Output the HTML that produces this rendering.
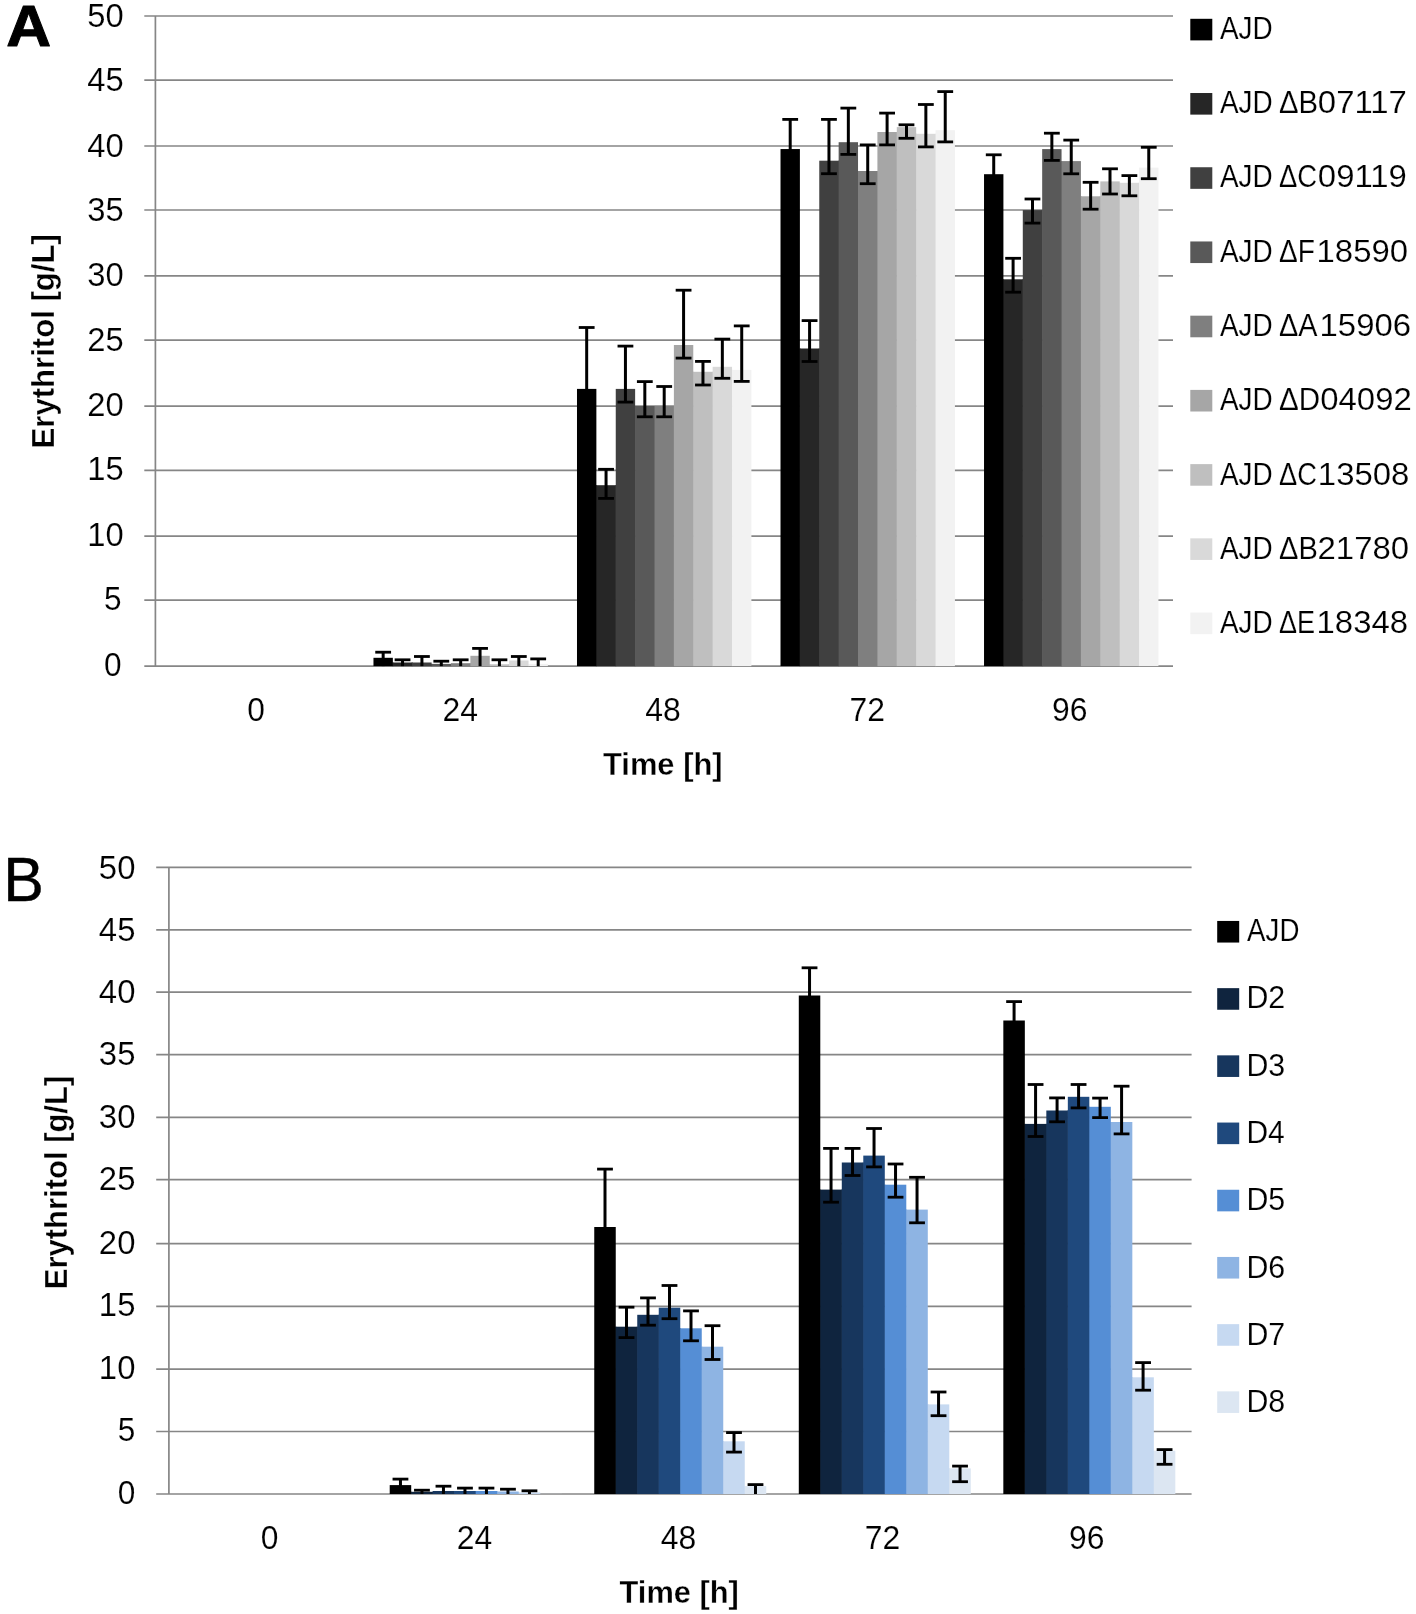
<!DOCTYPE html>
<html><head><meta charset="utf-8"><title>Erythritol charts</title>
<style>
html,body{margin:0;padding:0;background:#fff;}
svg{display:block;filter:blur(0.4px);}
text{font-family:"Liberation Sans", sans-serif;fill:#000;}
text.r{stroke:#fff;stroke-width:0.15px;paint-order:fill stroke;}
text.b{stroke:#fff;stroke-width:0.3px;paint-order:fill stroke;}
text.pa{stroke:#000;stroke-width:1px;stroke-linejoin:round;}
text.pb{stroke:#000;stroke-width:0.4px;stroke-linejoin:round;}
</style></head><body>
<svg width="1416" height="1614" viewBox="0 0 1416 1614">
<rect x="0" y="0" width="1416" height="1614" fill="#fff"/>
<line x1="144.3" y1="666.1" x2="1173" y2="666.1" stroke="#868686" stroke-width="1.7"/>
<line x1="144.3" y1="600.1" x2="1173" y2="600.1" stroke="#868686" stroke-width="1.7"/>
<line x1="144.3" y1="536.1" x2="1173" y2="536.1" stroke="#868686" stroke-width="1.7"/>
<line x1="144.3" y1="470.3" x2="1173" y2="470.3" stroke="#868686" stroke-width="1.7"/>
<line x1="144.3" y1="406.2" x2="1173" y2="406.2" stroke="#868686" stroke-width="1.7"/>
<line x1="144.3" y1="340.2" x2="1173" y2="340.2" stroke="#868686" stroke-width="1.7"/>
<line x1="144.3" y1="275.9" x2="1173" y2="275.9" stroke="#868686" stroke-width="1.7"/>
<line x1="144.3" y1="210" x2="1173" y2="210" stroke="#868686" stroke-width="1.7"/>
<line x1="144.3" y1="146" x2="1173" y2="146" stroke="#868686" stroke-width="1.7"/>
<line x1="144.3" y1="80.1" x2="1173" y2="80.1" stroke="#868686" stroke-width="1.7"/>
<line x1="144.3" y1="16" x2="1173" y2="16" stroke="#868686" stroke-width="1.7"/>
<line x1="155.4" y1="16" x2="155.4" y2="666.1" stroke="#868686" stroke-width="1.7"/>
<rect x="392.25" y="662.5" width="1.2" height="3.6" fill="#000000"/>
<rect x="411.63" y="662.5" width="1.2" height="3.6" fill="#262626"/>
<rect x="431.01" y="663.9" width="1.2" height="2.2" fill="#404040"/>
<rect x="450.39" y="663.9" width="1.2" height="2.2" fill="#595959"/>
<rect x="469.77" y="663.2" width="1.2" height="2.9" fill="#7f7f7f"/>
<rect x="489.15" y="664.3" width="1.2" height="1.8" fill="#a6a6a6"/>
<rect x="508.53" y="664.3" width="1.2" height="1.8" fill="#bfbfbf"/>
<rect x="527.91" y="663.9" width="1.2" height="2.2" fill="#d9d9d9"/>
<rect x="373.47" y="657.8" width="19.38" height="8.3" fill="#000000"/>
<rect x="392.85" y="662.5" width="19.38" height="3.6" fill="#262626"/>
<rect x="412.23" y="662.5" width="19.38" height="3.6" fill="#404040"/>
<rect x="431.61" y="663.9" width="19.38" height="2.2" fill="#595959"/>
<rect x="450.99" y="663.2" width="19.38" height="2.9" fill="#7f7f7f"/>
<rect x="470.37" y="655.8" width="19.38" height="10.3" fill="#a6a6a6"/>
<rect x="489.75" y="664.3" width="19.38" height="1.8" fill="#bfbfbf"/>
<rect x="509.13" y="660.5" width="19.38" height="5.6" fill="#d9d9d9"/>
<rect x="528.51" y="663.9" width="19.38" height="2.2" fill="#f2f2f2"/>
<rect x="595.77" y="485.2" width="1.2" height="180.9" fill="#000000"/>
<rect x="615.15" y="485.2" width="1.2" height="180.9" fill="#262626"/>
<rect x="634.53" y="406" width="1.2" height="260.1" fill="#404040"/>
<rect x="653.91" y="406" width="1.2" height="260.1" fill="#595959"/>
<rect x="673.29" y="406" width="1.2" height="260.1" fill="#7f7f7f"/>
<rect x="692.67" y="371.8" width="1.2" height="294.3" fill="#a6a6a6"/>
<rect x="712.05" y="371.8" width="1.2" height="294.3" fill="#bfbfbf"/>
<rect x="731.43" y="369.9" width="1.2" height="296.2" fill="#d9d9d9"/>
<rect x="576.99" y="388.9" width="19.38" height="277.2" fill="#000000"/>
<rect x="596.37" y="485.2" width="19.38" height="180.9" fill="#262626"/>
<rect x="615.75" y="388.9" width="19.38" height="277.2" fill="#404040"/>
<rect x="635.13" y="406" width="19.38" height="260.1" fill="#595959"/>
<rect x="654.51" y="406" width="19.38" height="260.1" fill="#7f7f7f"/>
<rect x="673.89" y="345" width="19.38" height="321.1" fill="#a6a6a6"/>
<rect x="693.27" y="371.8" width="19.38" height="294.3" fill="#bfbfbf"/>
<rect x="712.65" y="366.8" width="19.38" height="299.3" fill="#d9d9d9"/>
<rect x="732.03" y="369.9" width="19.38" height="296.2" fill="#f2f2f2"/>
<rect x="799.29" y="348.5" width="1.2" height="317.6" fill="#000000"/>
<rect x="818.67" y="348.5" width="1.2" height="317.6" fill="#262626"/>
<rect x="838.05" y="160.7" width="1.2" height="505.4" fill="#404040"/>
<rect x="857.43" y="171" width="1.2" height="495.1" fill="#595959"/>
<rect x="876.81" y="171" width="1.2" height="495.1" fill="#7f7f7f"/>
<rect x="896.19" y="132" width="1.2" height="534.1" fill="#a6a6a6"/>
<rect x="915.57" y="133.8" width="1.2" height="532.3" fill="#bfbfbf"/>
<rect x="934.95" y="133.8" width="1.2" height="532.3" fill="#d9d9d9"/>
<rect x="780.51" y="149.05" width="19.38" height="517.05" fill="#000000"/>
<rect x="799.89" y="348.5" width="19.38" height="317.6" fill="#262626"/>
<rect x="819.27" y="160.7" width="19.38" height="505.4" fill="#404040"/>
<rect x="838.65" y="142.2" width="19.38" height="523.9" fill="#595959"/>
<rect x="858.03" y="171" width="19.38" height="495.1" fill="#7f7f7f"/>
<rect x="877.41" y="132" width="19.38" height="534.1" fill="#a6a6a6"/>
<rect x="896.79" y="127.1" width="19.38" height="539" fill="#bfbfbf"/>
<rect x="916.17" y="133.8" width="19.38" height="532.3" fill="#d9d9d9"/>
<rect x="935.55" y="130.2" width="19.38" height="535.9" fill="#f2f2f2"/>
<rect x="1002.81" y="279.3" width="1.2" height="386.8" fill="#000000"/>
<rect x="1022.19" y="279.3" width="1.2" height="386.8" fill="#262626"/>
<rect x="1041.57" y="210.1" width="1.2" height="456" fill="#404040"/>
<rect x="1060.95" y="161.1" width="1.2" height="505" fill="#595959"/>
<rect x="1080.33" y="196.3" width="1.2" height="469.8" fill="#7f7f7f"/>
<rect x="1099.71" y="196.3" width="1.2" height="469.8" fill="#a6a6a6"/>
<rect x="1119.09" y="182.8" width="1.2" height="483.3" fill="#bfbfbf"/>
<rect x="1138.47" y="182.8" width="1.2" height="483.3" fill="#d9d9d9"/>
<rect x="984.03" y="174.2" width="19.38" height="491.9" fill="#000000"/>
<rect x="1003.41" y="279.3" width="19.38" height="386.8" fill="#262626"/>
<rect x="1022.79" y="210.1" width="19.38" height="456" fill="#404040"/>
<rect x="1042.17" y="149.1" width="19.38" height="517" fill="#595959"/>
<rect x="1061.55" y="161.1" width="19.38" height="505" fill="#7f7f7f"/>
<rect x="1080.93" y="196.3" width="19.38" height="469.8" fill="#a6a6a6"/>
<rect x="1100.31" y="181.4" width="19.38" height="484.7" fill="#bfbfbf"/>
<rect x="1119.69" y="182.8" width="19.38" height="483.3" fill="#d9d9d9"/>
<rect x="1139.07" y="167.6" width="19.38" height="498.5" fill="#f2f2f2"/>
<line x1="383.16" y1="652.2" x2="383.16" y2="666.1" stroke="#000" stroke-width="3.0"/>
<line x1="375.26" y1="652.2" x2="391.06" y2="652.2" stroke="#000" stroke-width="2.8"/>
<line x1="402.54" y1="659.8" x2="402.54" y2="666.1" stroke="#000" stroke-width="3.0"/>
<line x1="394.64" y1="659.8" x2="410.44" y2="659.8" stroke="#000" stroke-width="2.8"/>
<line x1="421.92" y1="656.5" x2="421.92" y2="666.1" stroke="#000" stroke-width="3.0"/>
<line x1="414.02" y1="656.5" x2="429.82" y2="656.5" stroke="#000" stroke-width="2.8"/>
<line x1="441.3" y1="661.2" x2="441.3" y2="666.1" stroke="#000" stroke-width="3.0"/>
<line x1="433.4" y1="661.2" x2="449.2" y2="661.2" stroke="#000" stroke-width="2.8"/>
<line x1="460.68" y1="659.8" x2="460.68" y2="666.1" stroke="#000" stroke-width="3.0"/>
<line x1="452.78" y1="659.8" x2="468.58" y2="659.8" stroke="#000" stroke-width="2.8"/>
<line x1="480.06" y1="648.4" x2="480.06" y2="666.1" stroke="#000" stroke-width="3.0"/>
<line x1="472.16" y1="648.4" x2="487.96" y2="648.4" stroke="#000" stroke-width="2.8"/>
<line x1="499.44" y1="659.8" x2="499.44" y2="666.1" stroke="#000" stroke-width="3.0"/>
<line x1="491.54" y1="659.8" x2="507.34" y2="659.8" stroke="#000" stroke-width="2.8"/>
<line x1="518.82" y1="656.5" x2="518.82" y2="666.1" stroke="#000" stroke-width="3.0"/>
<line x1="510.92" y1="656.5" x2="526.72" y2="656.5" stroke="#000" stroke-width="2.8"/>
<line x1="538.2" y1="658.9" x2="538.2" y2="666.1" stroke="#000" stroke-width="3.0"/>
<line x1="530.3" y1="658.9" x2="546.1" y2="658.9" stroke="#000" stroke-width="2.8"/>
<line x1="586.68" y1="327.5" x2="586.68" y2="401.9" stroke="#000" stroke-width="3.0"/>
<line x1="578.78" y1="327.5" x2="594.58" y2="327.5" stroke="#000" stroke-width="2.8"/>
<line x1="578.78" y1="401.9" x2="594.58" y2="401.9" stroke="#000" stroke-width="2.8"/>
<line x1="606.06" y1="469.3" x2="606.06" y2="498.4" stroke="#000" stroke-width="3.0"/>
<line x1="598.16" y1="469.3" x2="613.96" y2="469.3" stroke="#000" stroke-width="2.8"/>
<line x1="598.16" y1="498.4" x2="613.96" y2="498.4" stroke="#000" stroke-width="2.8"/>
<line x1="625.44" y1="346.1" x2="625.44" y2="402.1" stroke="#000" stroke-width="3.0"/>
<line x1="617.54" y1="346.1" x2="633.34" y2="346.1" stroke="#000" stroke-width="2.8"/>
<line x1="617.54" y1="402.1" x2="633.34" y2="402.1" stroke="#000" stroke-width="2.8"/>
<line x1="644.82" y1="381.6" x2="644.82" y2="416.8" stroke="#000" stroke-width="3.0"/>
<line x1="636.92" y1="381.6" x2="652.72" y2="381.6" stroke="#000" stroke-width="2.8"/>
<line x1="636.92" y1="416.8" x2="652.72" y2="416.8" stroke="#000" stroke-width="2.8"/>
<line x1="664.2" y1="386.5" x2="664.2" y2="416.8" stroke="#000" stroke-width="3.0"/>
<line x1="656.3" y1="386.5" x2="672.1" y2="386.5" stroke="#000" stroke-width="2.8"/>
<line x1="656.3" y1="416.8" x2="672.1" y2="416.8" stroke="#000" stroke-width="2.8"/>
<line x1="683.58" y1="290.2" x2="683.58" y2="358.1" stroke="#000" stroke-width="3.0"/>
<line x1="675.68" y1="290.2" x2="691.48" y2="290.2" stroke="#000" stroke-width="2.8"/>
<line x1="675.68" y1="358.1" x2="691.48" y2="358.1" stroke="#000" stroke-width="2.8"/>
<line x1="702.96" y1="361.4" x2="702.96" y2="385" stroke="#000" stroke-width="3.0"/>
<line x1="695.06" y1="361.4" x2="710.86" y2="361.4" stroke="#000" stroke-width="2.8"/>
<line x1="695.06" y1="385" x2="710.86" y2="385" stroke="#000" stroke-width="2.8"/>
<line x1="722.34" y1="339.1" x2="722.34" y2="378.3" stroke="#000" stroke-width="3.0"/>
<line x1="714.44" y1="339.1" x2="730.24" y2="339.1" stroke="#000" stroke-width="2.8"/>
<line x1="714.44" y1="378.3" x2="730.24" y2="378.3" stroke="#000" stroke-width="2.8"/>
<line x1="741.72" y1="325.9" x2="741.72" y2="381.4" stroke="#000" stroke-width="3.0"/>
<line x1="733.82" y1="325.9" x2="749.62" y2="325.9" stroke="#000" stroke-width="2.8"/>
<line x1="733.82" y1="381.4" x2="749.62" y2="381.4" stroke="#000" stroke-width="2.8"/>
<line x1="790.2" y1="119.4" x2="790.2" y2="162.05" stroke="#000" stroke-width="3.0"/>
<line x1="782.3" y1="119.4" x2="798.1" y2="119.4" stroke="#000" stroke-width="2.8"/>
<line x1="782.3" y1="162.05" x2="798.1" y2="162.05" stroke="#000" stroke-width="2.8"/>
<line x1="809.58" y1="320.6" x2="809.58" y2="361.5" stroke="#000" stroke-width="3.0"/>
<line x1="801.68" y1="320.6" x2="817.48" y2="320.6" stroke="#000" stroke-width="2.8"/>
<line x1="801.68" y1="361.5" x2="817.48" y2="361.5" stroke="#000" stroke-width="2.8"/>
<line x1="828.96" y1="119.4" x2="828.96" y2="173.7" stroke="#000" stroke-width="3.0"/>
<line x1="821.06" y1="119.4" x2="836.86" y2="119.4" stroke="#000" stroke-width="2.8"/>
<line x1="821.06" y1="173.7" x2="836.86" y2="173.7" stroke="#000" stroke-width="2.8"/>
<line x1="848.34" y1="108.1" x2="848.34" y2="154.4" stroke="#000" stroke-width="3.0"/>
<line x1="840.44" y1="108.1" x2="856.24" y2="108.1" stroke="#000" stroke-width="2.8"/>
<line x1="840.44" y1="154.4" x2="856.24" y2="154.4" stroke="#000" stroke-width="2.8"/>
<line x1="867.72" y1="144.9" x2="867.72" y2="183.7" stroke="#000" stroke-width="3.0"/>
<line x1="859.82" y1="144.9" x2="875.62" y2="144.9" stroke="#000" stroke-width="2.8"/>
<line x1="859.82" y1="183.7" x2="875.62" y2="183.7" stroke="#000" stroke-width="2.8"/>
<line x1="887.1" y1="113.1" x2="887.1" y2="144.9" stroke="#000" stroke-width="3.0"/>
<line x1="879.2" y1="113.1" x2="895" y2="113.1" stroke="#000" stroke-width="2.8"/>
<line x1="879.2" y1="144.9" x2="895" y2="144.9" stroke="#000" stroke-width="2.8"/>
<line x1="906.48" y1="124.8" x2="906.48" y2="138.3" stroke="#000" stroke-width="3.0"/>
<line x1="898.58" y1="124.8" x2="914.38" y2="124.8" stroke="#000" stroke-width="2.8"/>
<line x1="898.58" y1="138.3" x2="914.38" y2="138.3" stroke="#000" stroke-width="2.8"/>
<line x1="925.86" y1="104.5" x2="925.86" y2="146.9" stroke="#000" stroke-width="3.0"/>
<line x1="917.96" y1="104.5" x2="933.76" y2="104.5" stroke="#000" stroke-width="2.8"/>
<line x1="917.96" y1="146.9" x2="933.76" y2="146.9" stroke="#000" stroke-width="2.8"/>
<line x1="945.24" y1="91.6" x2="945.24" y2="141.9" stroke="#000" stroke-width="3.0"/>
<line x1="937.34" y1="91.6" x2="953.14" y2="91.6" stroke="#000" stroke-width="2.8"/>
<line x1="937.34" y1="141.9" x2="953.14" y2="141.9" stroke="#000" stroke-width="2.8"/>
<line x1="993.72" y1="154.8" x2="993.72" y2="187.2" stroke="#000" stroke-width="3.0"/>
<line x1="985.82" y1="154.8" x2="1001.62" y2="154.8" stroke="#000" stroke-width="2.8"/>
<line x1="985.82" y1="187.2" x2="1001.62" y2="187.2" stroke="#000" stroke-width="2.8"/>
<line x1="1013.1" y1="258.3" x2="1013.1" y2="292.2" stroke="#000" stroke-width="3.0"/>
<line x1="1005.2" y1="258.3" x2="1021" y2="258.3" stroke="#000" stroke-width="2.8"/>
<line x1="1005.2" y1="292.2" x2="1021" y2="292.2" stroke="#000" stroke-width="2.8"/>
<line x1="1032.48" y1="199" x2="1032.48" y2="223.1" stroke="#000" stroke-width="3.0"/>
<line x1="1024.58" y1="199" x2="1040.38" y2="199" stroke="#000" stroke-width="2.8"/>
<line x1="1024.58" y1="223.1" x2="1040.38" y2="223.1" stroke="#000" stroke-width="2.8"/>
<line x1="1051.86" y1="133.2" x2="1051.86" y2="160.4" stroke="#000" stroke-width="3.0"/>
<line x1="1043.96" y1="133.2" x2="1059.76" y2="133.2" stroke="#000" stroke-width="2.8"/>
<line x1="1043.96" y1="160.4" x2="1059.76" y2="160.4" stroke="#000" stroke-width="2.8"/>
<line x1="1071.24" y1="140.1" x2="1071.24" y2="173.8" stroke="#000" stroke-width="3.0"/>
<line x1="1063.34" y1="140.1" x2="1079.14" y2="140.1" stroke="#000" stroke-width="2.8"/>
<line x1="1063.34" y1="173.8" x2="1079.14" y2="173.8" stroke="#000" stroke-width="2.8"/>
<line x1="1090.62" y1="182.3" x2="1090.62" y2="209.2" stroke="#000" stroke-width="3.0"/>
<line x1="1082.72" y1="182.3" x2="1098.52" y2="182.3" stroke="#000" stroke-width="2.8"/>
<line x1="1082.72" y1="209.2" x2="1098.52" y2="209.2" stroke="#000" stroke-width="2.8"/>
<line x1="1110" y1="168.8" x2="1110" y2="194" stroke="#000" stroke-width="3.0"/>
<line x1="1102.1" y1="168.8" x2="1117.9" y2="168.8" stroke="#000" stroke-width="2.8"/>
<line x1="1102.1" y1="194" x2="1117.9" y2="194" stroke="#000" stroke-width="2.8"/>
<line x1="1129.38" y1="175.6" x2="1129.38" y2="195.8" stroke="#000" stroke-width="3.0"/>
<line x1="1121.48" y1="175.6" x2="1137.28" y2="175.6" stroke="#000" stroke-width="2.8"/>
<line x1="1121.48" y1="195.8" x2="1137.28" y2="195.8" stroke="#000" stroke-width="2.8"/>
<line x1="1148.76" y1="147.3" x2="1148.76" y2="178.7" stroke="#000" stroke-width="3.0"/>
<line x1="1140.86" y1="147.3" x2="1156.66" y2="147.3" stroke="#000" stroke-width="2.8"/>
<line x1="1140.86" y1="178.7" x2="1156.66" y2="178.7" stroke="#000" stroke-width="2.8"/>
<rect x="1190.3" y="18.8" width="22" height="21.6" fill="#000000"/>
<rect x="1190.3" y="93.02" width="22" height="21.6" fill="#262626"/>
<rect x="1190.3" y="167.24" width="22" height="21.6" fill="#404040"/>
<rect x="1190.3" y="241.46" width="22" height="21.6" fill="#595959"/>
<rect x="1190.3" y="315.68" width="22" height="21.6" fill="#7f7f7f"/>
<rect x="1190.3" y="389.9" width="22" height="21.6" fill="#a6a6a6"/>
<rect x="1190.3" y="464.12" width="22" height="21.6" fill="#bfbfbf"/>
<rect x="1190.3" y="538.34" width="22" height="21.6" fill="#d9d9d9"/>
<rect x="1190.3" y="612.56" width="22" height="21.6" fill="#f2f2f2"/>
<line x1="156.2" y1="1494" x2="1191.6" y2="1494" stroke="#868686" stroke-width="1.7"/>
<line x1="156.2" y1="1431.5" x2="1191.6" y2="1431.5" stroke="#868686" stroke-width="1.7"/>
<line x1="156.2" y1="1369.1" x2="1191.6" y2="1369.1" stroke="#868686" stroke-width="1.7"/>
<line x1="156.2" y1="1306.3" x2="1191.6" y2="1306.3" stroke="#868686" stroke-width="1.7"/>
<line x1="156.2" y1="1243.6" x2="1191.6" y2="1243.6" stroke="#868686" stroke-width="1.7"/>
<line x1="156.2" y1="1179.7" x2="1191.6" y2="1179.7" stroke="#868686" stroke-width="1.7"/>
<line x1="156.2" y1="1117.4" x2="1191.6" y2="1117.4" stroke="#868686" stroke-width="1.7"/>
<line x1="156.2" y1="1054.7" x2="1191.6" y2="1054.7" stroke="#868686" stroke-width="1.7"/>
<line x1="156.2" y1="992.2" x2="1191.6" y2="992.2" stroke="#868686" stroke-width="1.7"/>
<line x1="156.2" y1="929.8" x2="1191.6" y2="929.8" stroke="#868686" stroke-width="1.7"/>
<line x1="156.2" y1="867.4" x2="1191.6" y2="867.4" stroke="#868686" stroke-width="1.7"/>
<line x1="168.9" y1="867.4" x2="168.9" y2="1494" stroke="#868686" stroke-width="1.7"/>
<rect x="410.61" y="1491.8" width="1.2" height="2.2" fill="#000000"/>
<rect x="432.11" y="1491.8" width="1.2" height="2.2" fill="#0f243e"/>
<rect x="453.61" y="1491" width="1.2" height="3" fill="#17365d"/>
<rect x="475.11" y="1491" width="1.2" height="3" fill="#1f497d"/>
<rect x="496.61" y="1491.5" width="1.2" height="2.5" fill="#558ed5"/>
<rect x="518.11" y="1492.5" width="1.2" height="1.5" fill="#8eb4e3"/>
<rect x="539.61" y="1493.9" width="1.2" height="0.1" fill="#c6d9f1"/>
<rect x="389.71" y="1485.1" width="21.5" height="8.9" fill="#000000"/>
<rect x="411.21" y="1491.8" width="21.5" height="2.2" fill="#0f243e"/>
<rect x="432.71" y="1491" width="21.5" height="3" fill="#17365d"/>
<rect x="454.21" y="1491" width="21.5" height="3" fill="#1f497d"/>
<rect x="475.71" y="1491" width="21.5" height="3" fill="#558ed5"/>
<rect x="497.21" y="1491.5" width="21.5" height="2.5" fill="#8eb4e3"/>
<rect x="518.71" y="1492.5" width="21.5" height="1.5" fill="#c6d9f1"/>
<rect x="540.21" y="1493.9" width="21.5" height="0.1" fill="#dce6f2"/>
<rect x="615.15" y="1326.7" width="1.2" height="167.3" fill="#000000"/>
<rect x="636.65" y="1326.7" width="1.2" height="167.3" fill="#0f243e"/>
<rect x="658.15" y="1314.8" width="1.2" height="179.2" fill="#17365d"/>
<rect x="679.65" y="1328.3" width="1.2" height="165.7" fill="#1f497d"/>
<rect x="701.15" y="1346.7" width="1.2" height="147.3" fill="#558ed5"/>
<rect x="722.65" y="1441.3" width="1.2" height="52.7" fill="#8eb4e3"/>
<rect x="744.15" y="1486.1" width="1.2" height="7.9" fill="#c6d9f1"/>
<rect x="594.25" y="1227" width="21.5" height="267" fill="#000000"/>
<rect x="615.75" y="1326.7" width="21.5" height="167.3" fill="#0f243e"/>
<rect x="637.25" y="1314.8" width="21.5" height="179.2" fill="#17365d"/>
<rect x="658.75" y="1307.7" width="21.5" height="186.3" fill="#1f497d"/>
<rect x="680.25" y="1328.3" width="21.5" height="165.7" fill="#558ed5"/>
<rect x="701.75" y="1346.7" width="21.5" height="147.3" fill="#8eb4e3"/>
<rect x="723.25" y="1441.3" width="21.5" height="52.7" fill="#c6d9f1"/>
<rect x="744.75" y="1486.1" width="21.5" height="7.9" fill="#dce6f2"/>
<rect x="819.69" y="1189.6" width="1.2" height="304.4" fill="#000000"/>
<rect x="841.19" y="1189.6" width="1.2" height="304.4" fill="#0f243e"/>
<rect x="862.69" y="1162.5" width="1.2" height="331.5" fill="#17365d"/>
<rect x="884.19" y="1184.7" width="1.2" height="309.3" fill="#1f497d"/>
<rect x="905.69" y="1209.6" width="1.2" height="284.4" fill="#558ed5"/>
<rect x="927.19" y="1404.4" width="1.2" height="89.6" fill="#8eb4e3"/>
<rect x="948.69" y="1468.4" width="1.2" height="25.6" fill="#c6d9f1"/>
<rect x="798.79" y="995.5" width="21.5" height="498.5" fill="#000000"/>
<rect x="820.29" y="1189.6" width="21.5" height="304.4" fill="#0f243e"/>
<rect x="841.79" y="1162.5" width="21.5" height="331.5" fill="#17365d"/>
<rect x="863.29" y="1155.6" width="21.5" height="338.4" fill="#1f497d"/>
<rect x="884.79" y="1184.7" width="21.5" height="309.3" fill="#558ed5"/>
<rect x="906.29" y="1209.6" width="21.5" height="284.4" fill="#8eb4e3"/>
<rect x="927.79" y="1404.4" width="21.5" height="89.6" fill="#c6d9f1"/>
<rect x="949.29" y="1468.4" width="21.5" height="25.6" fill="#dce6f2"/>
<rect x="1024.23" y="1123.9" width="1.2" height="370.1" fill="#000000"/>
<rect x="1045.73" y="1123.9" width="1.2" height="370.1" fill="#0f243e"/>
<rect x="1067.23" y="1110.5" width="1.2" height="383.5" fill="#17365d"/>
<rect x="1088.73" y="1106.8" width="1.2" height="387.2" fill="#1f497d"/>
<rect x="1110.23" y="1122" width="1.2" height="372" fill="#558ed5"/>
<rect x="1131.73" y="1377.3" width="1.2" height="116.7" fill="#8eb4e3"/>
<rect x="1153.23" y="1450.7" width="1.2" height="43.3" fill="#c6d9f1"/>
<rect x="1003.33" y="1020.5" width="21.5" height="473.5" fill="#000000"/>
<rect x="1024.83" y="1123.9" width="21.5" height="370.1" fill="#0f243e"/>
<rect x="1046.33" y="1110.5" width="21.5" height="383.5" fill="#17365d"/>
<rect x="1067.83" y="1096.8" width="21.5" height="397.2" fill="#1f497d"/>
<rect x="1089.33" y="1106.8" width="21.5" height="387.2" fill="#558ed5"/>
<rect x="1110.83" y="1122" width="21.5" height="372" fill="#8eb4e3"/>
<rect x="1132.33" y="1377.3" width="21.5" height="116.7" fill="#c6d9f1"/>
<rect x="1153.83" y="1450.7" width="21.5" height="43.3" fill="#dce6f2"/>
<line x1="400.46" y1="1479.1" x2="400.46" y2="1494" stroke="#000" stroke-width="3.0"/>
<line x1="392.56" y1="1479.1" x2="408.36" y2="1479.1" stroke="#000" stroke-width="2.8"/>
<line x1="421.96" y1="1490.2" x2="421.96" y2="1494" stroke="#000" stroke-width="3.0"/>
<line x1="414.06" y1="1490.2" x2="429.86" y2="1490.2" stroke="#000" stroke-width="2.8"/>
<line x1="443.46" y1="1486.2" x2="443.46" y2="1494" stroke="#000" stroke-width="3.0"/>
<line x1="435.56" y1="1486.2" x2="451.36" y2="1486.2" stroke="#000" stroke-width="2.8"/>
<line x1="464.96" y1="1488.1" x2="464.96" y2="1494" stroke="#000" stroke-width="3.0"/>
<line x1="457.06" y1="1488.1" x2="472.86" y2="1488.1" stroke="#000" stroke-width="2.8"/>
<line x1="486.46" y1="1488.1" x2="486.46" y2="1494" stroke="#000" stroke-width="3.0"/>
<line x1="478.56" y1="1488.1" x2="494.36" y2="1488.1" stroke="#000" stroke-width="2.8"/>
<line x1="507.96" y1="1489.2" x2="507.96" y2="1494" stroke="#000" stroke-width="3.0"/>
<line x1="500.06" y1="1489.2" x2="515.86" y2="1489.2" stroke="#000" stroke-width="2.8"/>
<line x1="529.46" y1="1490.8" x2="529.46" y2="1494" stroke="#000" stroke-width="3.0"/>
<line x1="521.56" y1="1490.8" x2="537.36" y2="1490.8" stroke="#000" stroke-width="2.8"/>
<line x1="605" y1="1169.1" x2="605" y2="1239.53" stroke="#000" stroke-width="3.0"/>
<line x1="597.1" y1="1169.1" x2="612.9" y2="1169.1" stroke="#000" stroke-width="2.8"/>
<line x1="597.1" y1="1239.53" x2="612.9" y2="1239.53" stroke="#000" stroke-width="2.8"/>
<line x1="626.5" y1="1307.2" x2="626.5" y2="1337.6" stroke="#000" stroke-width="3.0"/>
<line x1="618.6" y1="1307.2" x2="634.4" y2="1307.2" stroke="#000" stroke-width="2.8"/>
<line x1="618.6" y1="1337.6" x2="634.4" y2="1337.6" stroke="#000" stroke-width="2.8"/>
<line x1="648" y1="1297.9" x2="648" y2="1325.2" stroke="#000" stroke-width="3.0"/>
<line x1="640.1" y1="1297.9" x2="655.9" y2="1297.9" stroke="#000" stroke-width="2.8"/>
<line x1="640.1" y1="1325.2" x2="655.9" y2="1325.2" stroke="#000" stroke-width="2.8"/>
<line x1="669.5" y1="1285.5" x2="669.5" y2="1318.7" stroke="#000" stroke-width="3.0"/>
<line x1="661.6" y1="1285.5" x2="677.4" y2="1285.5" stroke="#000" stroke-width="2.8"/>
<line x1="661.6" y1="1318.7" x2="677.4" y2="1318.7" stroke="#000" stroke-width="2.8"/>
<line x1="691" y1="1310.9" x2="691" y2="1340.8" stroke="#000" stroke-width="3.0"/>
<line x1="683.1" y1="1310.9" x2="698.9" y2="1310.9" stroke="#000" stroke-width="2.8"/>
<line x1="683.1" y1="1340.8" x2="698.9" y2="1340.8" stroke="#000" stroke-width="2.8"/>
<line x1="712.5" y1="1325.7" x2="712.5" y2="1359.5" stroke="#000" stroke-width="3.0"/>
<line x1="704.6" y1="1325.7" x2="720.4" y2="1325.7" stroke="#000" stroke-width="2.8"/>
<line x1="704.6" y1="1359.5" x2="720.4" y2="1359.5" stroke="#000" stroke-width="2.8"/>
<line x1="734" y1="1432.6" x2="734" y2="1452.1" stroke="#000" stroke-width="3.0"/>
<line x1="726.1" y1="1432.6" x2="741.9" y2="1432.6" stroke="#000" stroke-width="2.8"/>
<line x1="726.1" y1="1452.1" x2="741.9" y2="1452.1" stroke="#000" stroke-width="2.8"/>
<line x1="755.5" y1="1484.6" x2="755.5" y2="1494" stroke="#000" stroke-width="3.0"/>
<line x1="747.6" y1="1484.6" x2="763.4" y2="1484.6" stroke="#000" stroke-width="2.8"/>
<line x1="809.54" y1="967.8" x2="809.54" y2="1008.03" stroke="#000" stroke-width="3.0"/>
<line x1="801.64" y1="967.8" x2="817.44" y2="967.8" stroke="#000" stroke-width="2.8"/>
<line x1="801.64" y1="1008.03" x2="817.44" y2="1008.03" stroke="#000" stroke-width="2.8"/>
<line x1="831.04" y1="1148.4" x2="831.04" y2="1202.2" stroke="#000" stroke-width="3.0"/>
<line x1="823.14" y1="1148.4" x2="838.94" y2="1148.4" stroke="#000" stroke-width="2.8"/>
<line x1="823.14" y1="1202.2" x2="838.94" y2="1202.2" stroke="#000" stroke-width="2.8"/>
<line x1="852.54" y1="1148.4" x2="852.54" y2="1175.5" stroke="#000" stroke-width="3.0"/>
<line x1="844.64" y1="1148.4" x2="860.44" y2="1148.4" stroke="#000" stroke-width="2.8"/>
<line x1="844.64" y1="1175.5" x2="860.44" y2="1175.5" stroke="#000" stroke-width="2.8"/>
<line x1="874.04" y1="1128.5" x2="874.04" y2="1166.9" stroke="#000" stroke-width="3.0"/>
<line x1="866.14" y1="1128.5" x2="881.94" y2="1128.5" stroke="#000" stroke-width="2.8"/>
<line x1="866.14" y1="1166.9" x2="881.94" y2="1166.9" stroke="#000" stroke-width="2.8"/>
<line x1="895.54" y1="1164" x2="895.54" y2="1197.2" stroke="#000" stroke-width="3.0"/>
<line x1="887.64" y1="1164" x2="903.44" y2="1164" stroke="#000" stroke-width="2.8"/>
<line x1="887.64" y1="1197.2" x2="903.44" y2="1197.2" stroke="#000" stroke-width="2.8"/>
<line x1="917.04" y1="1177.3" x2="917.04" y2="1222.8" stroke="#000" stroke-width="3.0"/>
<line x1="909.14" y1="1177.3" x2="924.94" y2="1177.3" stroke="#000" stroke-width="2.8"/>
<line x1="909.14" y1="1222.8" x2="924.94" y2="1222.8" stroke="#000" stroke-width="2.8"/>
<line x1="938.54" y1="1392" x2="938.54" y2="1415.7" stroke="#000" stroke-width="3.0"/>
<line x1="930.64" y1="1392" x2="946.44" y2="1392" stroke="#000" stroke-width="2.8"/>
<line x1="930.64" y1="1415.7" x2="946.44" y2="1415.7" stroke="#000" stroke-width="2.8"/>
<line x1="960.04" y1="1466.1" x2="960.04" y2="1481.7" stroke="#000" stroke-width="3.0"/>
<line x1="952.14" y1="1466.1" x2="967.94" y2="1466.1" stroke="#000" stroke-width="2.8"/>
<line x1="952.14" y1="1481.7" x2="967.94" y2="1481.7" stroke="#000" stroke-width="2.8"/>
<line x1="1014.08" y1="1001.6" x2="1014.08" y2="1033.03" stroke="#000" stroke-width="3.0"/>
<line x1="1006.18" y1="1001.6" x2="1021.98" y2="1001.6" stroke="#000" stroke-width="2.8"/>
<line x1="1006.18" y1="1033.03" x2="1021.98" y2="1033.03" stroke="#000" stroke-width="2.8"/>
<line x1="1035.58" y1="1084.5" x2="1035.58" y2="1136.5" stroke="#000" stroke-width="3.0"/>
<line x1="1027.68" y1="1084.5" x2="1043.48" y2="1084.5" stroke="#000" stroke-width="2.8"/>
<line x1="1027.68" y1="1136.5" x2="1043.48" y2="1136.5" stroke="#000" stroke-width="2.8"/>
<line x1="1057.08" y1="1097.9" x2="1057.08" y2="1121.8" stroke="#000" stroke-width="3.0"/>
<line x1="1049.18" y1="1097.9" x2="1064.98" y2="1097.9" stroke="#000" stroke-width="2.8"/>
<line x1="1049.18" y1="1121.8" x2="1064.98" y2="1121.8" stroke="#000" stroke-width="2.8"/>
<line x1="1078.58" y1="1084.5" x2="1078.58" y2="1107.9" stroke="#000" stroke-width="3.0"/>
<line x1="1070.68" y1="1084.5" x2="1086.48" y2="1084.5" stroke="#000" stroke-width="2.8"/>
<line x1="1070.68" y1="1107.9" x2="1086.48" y2="1107.9" stroke="#000" stroke-width="2.8"/>
<line x1="1100.08" y1="1098.1" x2="1100.08" y2="1117.6" stroke="#000" stroke-width="3.0"/>
<line x1="1092.18" y1="1098.1" x2="1107.98" y2="1098.1" stroke="#000" stroke-width="2.8"/>
<line x1="1092.18" y1="1117.6" x2="1107.98" y2="1117.6" stroke="#000" stroke-width="2.8"/>
<line x1="1121.58" y1="1086.2" x2="1121.58" y2="1133.9" stroke="#000" stroke-width="3.0"/>
<line x1="1113.68" y1="1086.2" x2="1129.48" y2="1086.2" stroke="#000" stroke-width="2.8"/>
<line x1="1113.68" y1="1133.9" x2="1129.48" y2="1133.9" stroke="#000" stroke-width="2.8"/>
<line x1="1143.08" y1="1362.6" x2="1143.08" y2="1390.2" stroke="#000" stroke-width="3.0"/>
<line x1="1135.18" y1="1362.6" x2="1150.98" y2="1362.6" stroke="#000" stroke-width="2.8"/>
<line x1="1135.18" y1="1390.2" x2="1150.98" y2="1390.2" stroke="#000" stroke-width="2.8"/>
<line x1="1164.58" y1="1449.6" x2="1164.58" y2="1464.3" stroke="#000" stroke-width="3.0"/>
<line x1="1156.68" y1="1449.6" x2="1172.48" y2="1449.6" stroke="#000" stroke-width="2.8"/>
<line x1="1156.68" y1="1464.3" x2="1172.48" y2="1464.3" stroke="#000" stroke-width="2.8"/>
<rect x="1217.2" y="920.95" width="22" height="21.6" fill="#000000"/>
<rect x="1217.2" y="988.15" width="22" height="21.6" fill="#0f243e"/>
<rect x="1217.2" y="1055.35" width="22" height="21.6" fill="#17365d"/>
<rect x="1217.2" y="1122.55" width="22" height="21.6" fill="#1f497d"/>
<rect x="1217.2" y="1189.75" width="22" height="21.6" fill="#558ed5"/>
<rect x="1217.2" y="1256.95" width="22" height="21.6" fill="#8eb4e3"/>
<rect x="1217.2" y="1324.15" width="22" height="21.6" fill="#c6d9f1"/>
<rect x="1217.2" y="1391.35" width="22" height="21.6" fill="#dce6f2"/>
<text transform="translate(104.11,675.63) scale(0.9426,1)" font-size="33.53" class="r">0</text>
<text transform="translate(104.11,609.8) scale(0.9426,1)" font-size="33.53" class="r">5</text>
<text transform="translate(87.18,545.96) scale(0.9772,1)" font-size="33.53" class="r">10</text>
<text transform="translate(87.18,480.33) scale(0.9772,1)" font-size="33.53" class="r">15</text>
<text transform="translate(87.18,416.39) scale(0.9772,1)" font-size="33.53" class="r">20</text>
<text transform="translate(87.18,350.56) scale(0.9772,1)" font-size="33.53" class="r">25</text>
<text transform="translate(87.18,286.42) scale(0.9772,1)" font-size="33.53" class="r">30</text>
<text transform="translate(87.18,220.68) scale(0.9772,1)" font-size="33.53" class="r">35</text>
<text transform="translate(87.18,156.85) scale(0.9772,1)" font-size="33.53" class="r">40</text>
<text transform="translate(87.18,91.11) scale(0.9772,1)" font-size="33.53" class="r">45</text>
<text transform="translate(87.18,27.18) scale(0.9772,1)" font-size="33.53" class="r">50</text>
<text transform="translate(247.36,721.1) scale(0.9568,1)" font-size="33.24" class="r">0</text>
<text transform="translate(442.55,721.1) scale(0.9600,1)" font-size="33.24" class="r">24</text>
<text transform="translate(645.35,721.1) scale(0.9600,1)" font-size="33.24" class="r">48</text>
<text transform="translate(849.45,721.1) scale(0.9600,1)" font-size="33.24" class="r">72</text>
<text transform="translate(1052.05,721.1) scale(0.9600,1)" font-size="33.24" class="r">96</text>
<text transform="translate(1220,38.9) scale(0.8656,1)" font-size="32.27" class="r">AJD</text>
<text transform="translate(1220,113.17) scale(0.8656,1)" font-size="32.27" class="r">AJD</text>
<text transform="translate(1279.04,113.17) scale(0.9074,1)" font-size="32.27" class="r">ΔB</text>
<text transform="translate(1317.87,113.17) scale(1.0192,1)" font-size="32.27" class="r">07117</text>
<text transform="translate(1220,187.45) scale(0.8656,1)" font-size="32.27" class="r">AJD</text>
<text transform="translate(1279.07,187.45) scale(0.8489,1)" font-size="32.27" class="r">ΔC</text>
<text transform="translate(1317.87,187.45) scale(1.0192,1)" font-size="32.27" class="r">09119</text>
<text transform="translate(1220,261.72) scale(0.8656,1)" font-size="32.27" class="r">AJD</text>
<text transform="translate(1279.06,261.72) scale(0.8689,1)" font-size="32.27" class="r">ΔF</text>
<text transform="translate(1316.57,261.72) scale(1.0192,1)" font-size="32.27" class="r">18590</text>
<text transform="translate(1220,336) scale(0.8656,1)" font-size="32.27" class="r">AJD</text>
<text transform="translate(1279.05,336) scale(0.8940,1)" font-size="32.27" class="r">ΔA</text>
<text transform="translate(1319.57,336) scale(1.0192,1)" font-size="32.27" class="r">15906</text>
<text transform="translate(1220,410.28) scale(0.8656,1)" font-size="32.27" class="r">AJD</text>
<text transform="translate(1279.04,410.28) scale(0.9160,1)" font-size="32.27" class="r">ΔD</text>
<text transform="translate(1320.27,410.28) scale(1.0192,1)" font-size="32.27" class="r">04092</text>
<text transform="translate(1220,484.55) scale(0.8656,1)" font-size="32.27" class="r">AJD</text>
<text transform="translate(1279.07,484.55) scale(0.8443,1)" font-size="32.27" class="r">ΔC</text>
<text transform="translate(1317.87,484.55) scale(1.0192,1)" font-size="32.27" class="r">13508</text>
<text transform="translate(1220,558.83) scale(0.8656,1)" font-size="32.27" class="r">AJD</text>
<text transform="translate(1279.05,558.83) scale(0.9001,1)" font-size="32.27" class="r">ΔB</text>
<text transform="translate(1317.57,558.83) scale(1.0192,1)" font-size="32.27" class="r">21780</text>
<text transform="translate(1220,633.1) scale(0.8656,1)" font-size="32.27" class="r">AJD</text>
<text transform="translate(1279.08,633.1) scale(0.8370,1)" font-size="32.27" class="r">ΔE</text>
<text transform="translate(1316.57,633.1) scale(1.0192,1)" font-size="32.27" class="r">18348</text>
<text transform="translate(117.71,1503.53) scale(0.9426,1)" font-size="33.53" class="r">0</text>
<text transform="translate(117.71,1441.19) scale(0.9426,1)" font-size="33.53" class="r">5</text>
<text transform="translate(98.87,1378.96) scale(0.9800,1)" font-size="33.53" class="r">10</text>
<text transform="translate(98.87,1316.32) scale(0.9800,1)" font-size="33.53" class="r">15</text>
<text transform="translate(98.87,1253.79) scale(0.9800,1)" font-size="33.53" class="r">20</text>
<text transform="translate(98.87,1190.06) scale(0.9800,1)" font-size="33.53" class="r">25</text>
<text transform="translate(98.87,1127.92) scale(0.9800,1)" font-size="33.53" class="r">30</text>
<text transform="translate(98.87,1065.38) scale(0.9800,1)" font-size="33.53" class="r">35</text>
<text transform="translate(98.87,1003.05) scale(0.9800,1)" font-size="33.53" class="r">40</text>
<text transform="translate(98.87,940.82) scale(0.9800,1)" font-size="33.53" class="r">45</text>
<text transform="translate(98.87,878.58) scale(0.9800,1)" font-size="33.53" class="r">50</text>
<text transform="translate(260.86,1549.1) scale(0.9444,1)" font-size="33.67" class="r">0</text>
<text transform="translate(456.7,1549.1) scale(0.9477,1)" font-size="33.67" class="r">24</text>
<text transform="translate(660.65,1549.1) scale(0.9477,1)" font-size="33.67" class="r">48</text>
<text transform="translate(864.65,1549.1) scale(0.9477,1)" font-size="33.67" class="r">72</text>
<text transform="translate(1069.05,1549.1) scale(0.9477,1)" font-size="33.67" class="r">96</text>
<text transform="translate(1247.1,940.9) scale(0.8573,1)" font-size="32.27" class="r">AJD</text>
<text transform="translate(1246.43,1008.26) scale(0.9407,1)" font-size="32.27" class="r">D2</text>
<text transform="translate(1246.43,1075.62) scale(0.9407,1)" font-size="32.27" class="r">D3</text>
<text transform="translate(1246.46,1142.98) scale(0.9282,1)" font-size="32.27" class="r">D4</text>
<text transform="translate(1246.43,1210.34) scale(0.9407,1)" font-size="32.27" class="r">D5</text>
<text transform="translate(1246.43,1277.7) scale(0.9407,1)" font-size="32.27" class="r">D6</text>
<text transform="translate(1246.43,1345.06) scale(0.9407,1)" font-size="32.27" class="r">D7</text>
<text transform="translate(1246.43,1412.42) scale(0.9407,1)" font-size="32.27" class="r">D8</text>
<text transform="translate(603,774.6) scale(0.9981,1)" font-size="30.96" font-weight="bold" class="b">Time [h]</text>
<text transform="translate(619.6,1603.4) scale(0.9955,1)" font-size="30.96" font-weight="bold" class="b">Time [h]</text>
<text transform="translate(53.5,448.44) rotate(-90) scale(1.0005,1)" font-size="31.1" font-weight="bold" class="b">Erythritol [g/L]</text>
<text transform="translate(66.6,1289.14) rotate(-90) scale(0.9962,1)" font-size="31.1" font-weight="bold" class="b">Erythritol [g/L]</text>
<text transform="translate(6.13,46.3) scale(1.0656,1)" font-size="58.28" font-weight="bold" class="pa">A</text>
<text transform="translate(3.34,901) scale(0.9543,1)" font-size="63.81" class="pb">B</text>
</svg>
</body></html>
